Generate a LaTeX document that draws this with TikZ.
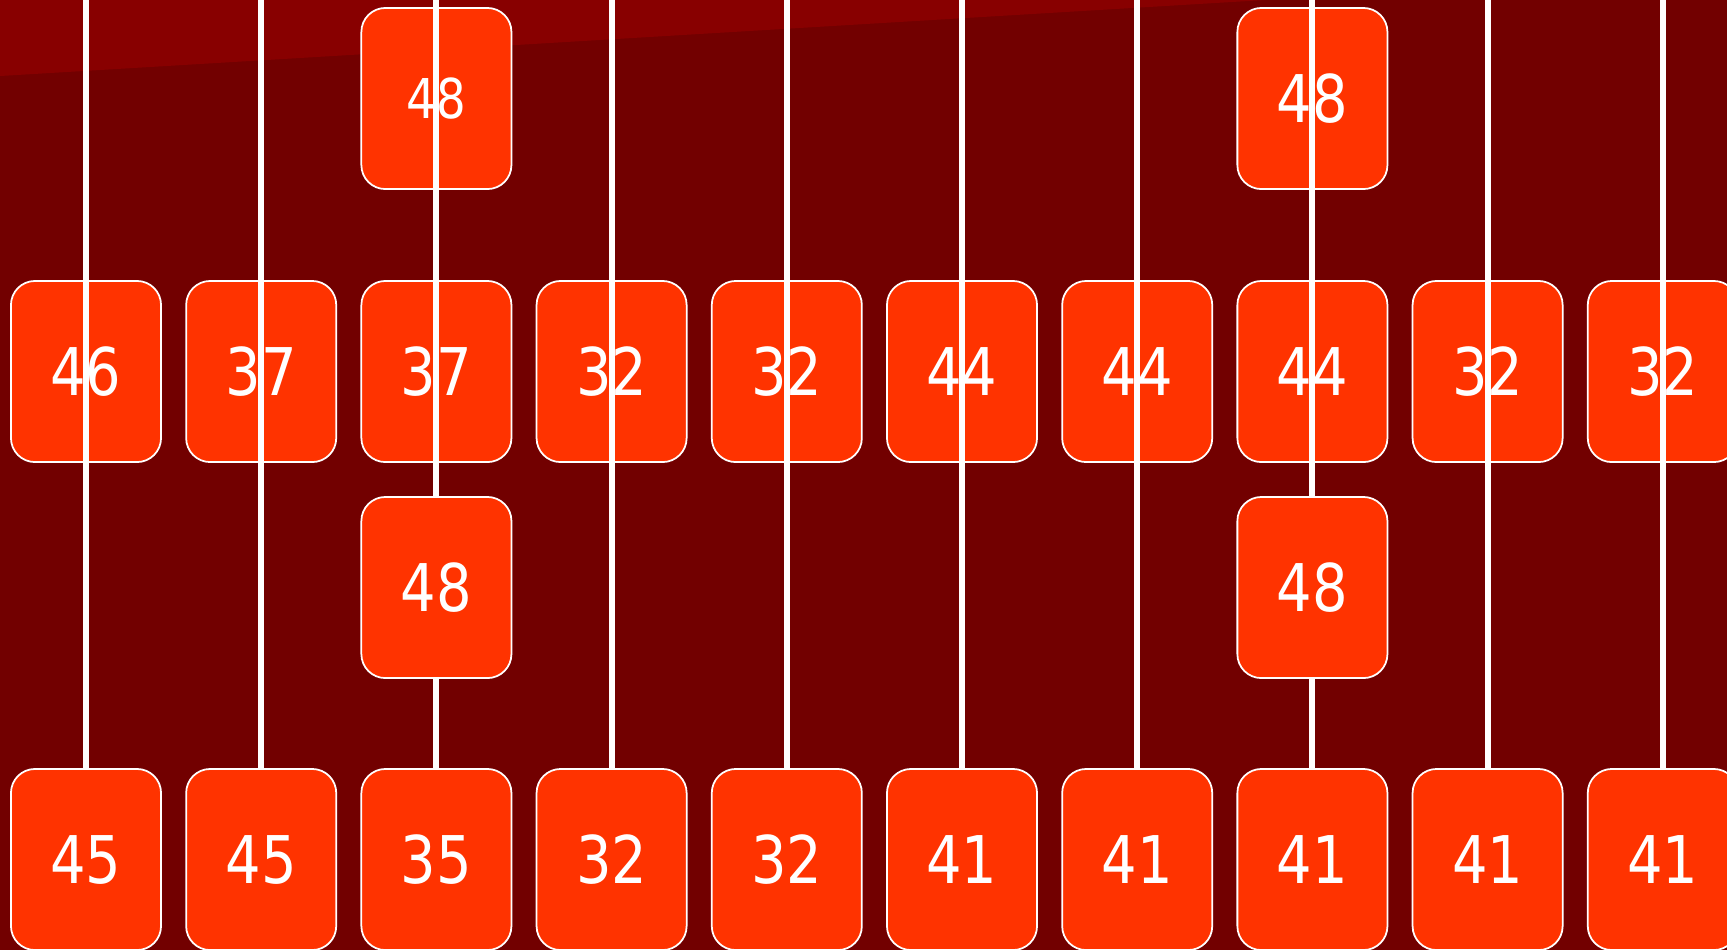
\documentclass[tikz,border=0pt]{standalone}
\usepackage{fontspec}
\setmainfont{DejaVu Sans}[FakeStretch=0.85]
\definecolor{wine}{HTML}{720000}
\definecolor{winelight}{HTML}{880000}
\definecolor{tile}{HTML}{FF3300}
\begin{document}
\begin{tikzpicture}[x=0.01cm,y=-0.01cm,
    cell/.style={draw=white,fill=tile,text=white,line width=0.5pt,
      rounded corners=0.24cm,minimum width=1.5cm,minimum height=1.81cm,
      inner sep=0pt,font=\fontsize{18.7}{20}\selectfont},
    wire/.style={draw=white,line width=1.7pt}]
    \fill[wine] (0,0) rectangle (1727,950);
    \fill[winelight] (0,0) -- (0,76) -- (1265,0) -- cycle;
    \useasboundingbox (0,0) rectangle (1727,950);

    % bottom row
    \foreach \v [count=\i from 0] in {45,45,35,32,32,41,41,41,41,41}
        \node[cell] (d\i) at (86+175.2*\i,859.5) {\v};
    % third row
    \node[cell] (c2) at (86+175.2*2,587.5) {48};
    \node[cell] (c7) at (86+175.2*7,587.5) {48};
    % second row
    \foreach \v [count=\i from 0] in {46,37,37,32,32,44,44,44,32,32}
        \node[cell] (b\i) at (86+175.2*\i,371.5) {\v};
    % top row
    \node[cell,font=\fontsize{15.6}{17}\selectfont] (a2) at (86+175.2*2,98.5) {48};
    \node[cell] (a7) at (86+175.2*7,98.5) {48};

    % wires
    \foreach \i in {0,...,9}
        \coordinate (t\i) at (86+175.2*\i,0);
    \foreach \i in {0,1,3,4,5,6,8,9}
        \draw[wire] (t\i) -- (d\i.north);
    \foreach \i in {2,7}
        \draw[wire] (t\i) -- (c\i.north) (c\i.south) -- (d\i.north);
\end{tikzpicture}
\end{document}
